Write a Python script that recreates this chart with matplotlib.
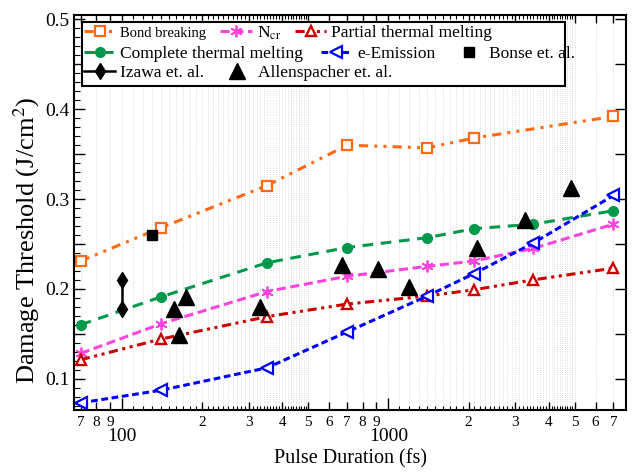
import matplotlib
matplotlib.use("Agg")
import matplotlib.pyplot as plt
import numpy as np
from matplotlib.ticker import FixedLocator, FixedFormatter, NullFormatter
from matplotlib.patches import Rectangle

# pulse durations (fs) for the model curves
pulse = [70, 140, 350, 700, 1400, 2100, 3500, 7000]
pulse_bond = [70, 140, 350, 700, 1400, 2100, 7000]

bond_breaking = [0.231, 0.268, 0.315, 0.360, 0.357, 0.368, 0.392]
n_cr = [0.128, 0.161, 0.197, 0.214, 0.225, 0.231, 0.245, 0.272]
partial_melt = [0.121, 0.144, 0.169, 0.183, 0.192, 0.199, 0.210, 0.223]
complete_melt = [0.160, 0.191, 0.229, 0.246, 0.257, 0.267, 0.272, 0.287]
e_emission = [0.073, 0.087, 0.112, 0.152, 0.192, 0.217, 0.251, 0.304]

# experimental data
bonse_x = [130]
bonse_y = [0.260]
izawa_x = [100, 100]
izawa_y = [0.210, 0.178]
allen_x = [157, 163, 174, 330, 668, 917, 1199, 2146, 3260, 4842]
allen_y = [0.177, 0.149, 0.191, 0.180, 0.226, 0.222, 0.202, 0.246, 0.277, 0.312]

plt.rcParams['font.family'] = ['Liberation Serif', 'DejaVu Serif']
plt.rcParams['mathtext.fontset'] = 'stix'

fig = plt.figure(figsize=(6.32, 4.72), dpi=100)
ax = fig.add_axes([74/632, 1-410/472, (626-74)/632, (410-15)/472])

ax.set_xscale('log')
ax.set_xlim(66, 7800)
ax.set_ylim(0.065, 0.505)

# vertical grid
grid_x = list(range(70, 500, 10)) + list(range(500, 1000, 100)) + \
    list(range(1000, 5000, 100)) + [5000, 6000, 7000]
for g in grid_x:
    ax.axvline(g, color='#d4d4d4', ls=(0, (1, 1.5)), lw=0.6, zorder=0)

lw = 2.2
l_bond, = ax.plot(pulse_bond, bond_breaking, color='#ff6a13', lw=lw,
                  ls=(0, (3, 2, 1, 2, 1, 2)), marker='s', ms=7, mfc='white',
                  mec='#ff6a13', mew=1.6, label='Bond breaking')
l_ncr, = ax.plot(pulse, n_cr, color='#ff44dd', lw=lw, ls=(0, (3, 1.5)),
                 marker=(6, 2, 0), ms=8.5, mew=1.3, label=r'N$_{\mathrm{cr}}$')
l_part, = ax.plot(pulse, partial_melt, color='#cc0000', lw=lw,
                  ls=(0, (3, 1.5, 1, 1.5, 1, 1.5)), marker='^', ms=7.5,
                  mfc='white', mec='#cc0000', mew=1.7, label='Partial thermal melting')
l_comp, = ax.plot(pulse, complete_melt, color='#00994c', lw=lw, ls=(0, (3.5, 2.5)),
                  marker='o', ms=7, label='Complete thermal melting')
l_emis, = ax.plot(pulse, e_emission, color='#0000ff', lw=lw, ls=(0, (2.2, 1.2)),
                  marker='<', ms=8, mfc='white', mec='#0000ff', mew=1.6,
                  label='e-Emission')
l_bonse, = ax.plot(bonse_x, bonse_y, 's', color='black', ms=7.5, label='Bonse et. al.')
l_izawa, = ax.plot(izawa_x, izawa_y, '-', color='black', lw=1.8, marker='d',
                   ms=8, label='Izawa et. al.')
l_allen, = ax.plot(allen_x, allen_y, '^', color='black', ms=11,
                   label='Allenspacher et. al.')

# x ticks
labeled = [70, 80, 90, 200, 300, 400, 500, 600, 700, 800, 900,
           2000, 3000, 4000, 5000, 6000, 7000, 8000]
ax.xaxis.set_major_locator(FixedLocator([100, 1000]))
ax.xaxis.set_major_formatter(FixedFormatter(['100', '1000']))
ax.xaxis.set_minor_locator(FixedLocator(labeled))
ax.xaxis.set_minor_formatter(FixedFormatter([str(v)[0] for v in labeled]))
ax.tick_params(axis='x', which='major', direction='in', length=9, width=1,
               labelsize=14, pad=13, top=True)
ax.tick_params(axis='x', which='minor', direction='in', length=6, width=1,
               labelsize=11, pad=4, top=True)

fine = [v for v in grid_x if v not in labeled and v not in (100, 1000)]
for side in ('bottom', 'top'):
    sec = ax.secondary_xaxis(side)
    sec.set_xscale('log')
    sec.xaxis.set_major_locator(FixedLocator(fine))
    sec.xaxis.set_major_formatter(NullFormatter())
    sec.xaxis.set_minor_locator(FixedLocator([]))
    sec.tick_params(direction='in', length=3, width=0.8)
    sec.spines[side].set_visible(False)

# y ticks
ax.yaxis.set_major_locator(FixedLocator(np.arange(0.1, 0.51, 0.05)))
ax.yaxis.set_major_formatter(FixedFormatter(
    ['0.1', '', '0.2', '', '0.3', '', '0.4', '', '0.5']))
ax.yaxis.set_minor_locator(FixedLocator(np.arange(0.07, 0.505, 0.01)))
ax.tick_params(axis='y', which='major', direction='in', length=8, width=1,
               labelsize=14, right=True)
ax.tick_params(axis='y', which='minor', direction='in', length=4, width=0.8)
for s in ax.spines.values():
    s.set_linewidth(1.5)

ax.set_xlabel('Pulse Duration (fs)', fontsize=14.5, labelpad=3)
ax.set_ylabel(r'Damage Threshold (J/cm$^2$)', fontsize=19)
ax.yaxis.set_label_coords(-0.058, 0.43)

# legend, built row by row inside one frame
frame = Rectangle((82/632, 1-86/472), (565-82)/632, (86-22)/472,
                  transform=fig.transFigure, facecolor='white', edgecolor='black',
                  lw=1.5, zorder=5)
fig.patches.append(frame)
rows = [([l_bond, l_ncr, l_part], 33, 0.8), ([l_comp, l_emis, l_bonse], 54, 1.0),
        ([l_izawa, l_allen], 73, 1.0)]
for handles, yc, cs in rows:
    leg = fig.legend(handles=handles, loc='center left', ncol=len(handles),
                     bbox_to_anchor=(84/632, 1-yc/472), frameon=False,
                     fontsize=12.5, handlelength=1.8, handletextpad=0.3,
                     columnspacing=cs, borderpad=0, borderaxespad=0)
    leg.set_zorder(6)
    if handles[0] is l_bond:
        leg.get_texts()[0].set_fontsize(10.5)

fig.savefig('out.png', dpi=100)
